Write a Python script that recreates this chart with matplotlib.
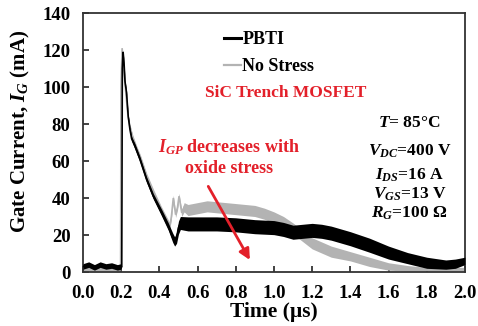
import matplotlib
matplotlib.use("Agg")
import matplotlib.pyplot as plt
import numpy as np

plt.rcParams["font.family"] = ["Liberation Serif", "DejaVu Serif"]
plt.rcParams["font.weight"] = "bold"
plt.rcParams["axes.labelweight"] = "bold"
plt.rcParams["mathtext.fontset"] = "custom"
plt.rcParams["mathtext.rm"] = "Liberation Serif:bold"
plt.rcParams["mathtext.it"] = "Liberation Serif:italic:bold"
plt.rcParams["mathtext.bf"] = "Liberation Serif:bold"

# PBTI-stressed device: gate current (mA) vs time (us), with noise half-width
pbti_t = [0.0, 0.03, 0.06, 0.09, 0.12, 0.15, 0.18, 0.2, 0.203, 0.206, 0.21, 0.215,
          0.22, 0.228, 0.237, 0.246, 0.255, 0.272, 0.298, 0.333, 0.368, 0.412, 0.447,
          0.47, 0.48, 0.49, 0.50, 0.51, 0.55, 0.6, 0.7, 0.8, 0.9, 1.0, 1.05, 1.1,
          1.15, 1.2, 1.25, 1.3, 1.4, 1.5, 1.6, 1.7, 1.8, 1.9, 1.95, 2.0]
pbti_ig = [3, 4, 2.5, 4, 3, 3.5, 2.5, 3, 3, 110, 119, 113,
           103, 97, 84, 77, 72, 68, 61, 50, 41, 32, 24.5,
           18.5, 16.5, 18.5, 24, 26.5, 26, 26, 26, 25.5, 24.5, 24, 23, 21.5,
           22, 22.5, 22, 21, 18, 14.5, 10.5, 7.5, 5, 4, 4.5, 6]
pbti_noise = [1.5, 1.5, 1.5, 1.5, 1.5, 1.5, 1.5, 1.5, 0, 0, 0.5, 0.8,
              1, 1, 1, 1, 1.2, 1.5, 1.5, 1.5, 1.5, 1.8, 2,
              2.5, 2.5, 3, 3.5, 3.5, 3.8, 3.8, 3.8, 3.8, 3.8, 3.8, 3.8, 3.8,
              3.8, 3.8, 3.8, 3.8, 3.8, 3.8, 3.5, 3, 3, 2.5, 2.5, 2]

# Unstressed device
ns_t = [0.0, 0.1, 0.19, 0.197, 0.199, 0.205, 0.215, 0.225, 0.235, 0.245, 0.26,
        0.28, 0.3, 0.333, 0.37, 0.41, 0.44, 0.455, 0.463, 0.473, 0.485, 0.495,
        0.503, 0.517, 0.53, 0.55, 0.6, 0.65, 0.7, 0.8, 0.9, 0.95, 1.0, 1.05, 1.1,
        1.15, 1.2, 1.3, 1.4, 1.5, 1.6, 1.7, 1.8, 1.9, 2.0]
ns_ig = [1.5, 1.5, 1.5, 1.5, 100, 121, 108, 96, 85, 79, 73,
         67, 62, 52, 43, 34, 28, 25, 30, 40, 31, 35,
         41, 32, 35, 33.5, 34.5, 35.5, 35, 34, 33, 31.5, 29.5, 27, 23.5,
         19.5, 15.5, 11, 8.5, 5.5, 3, 2, 1.5, 1.5, 1.5]
ns_noise = [1, 1, 1, 0, 0, 0.5, 1, 1, 1, 1, 1.2,
            1.5, 1.5, 1.5, 1.5, 1.5, 1.5, 1.5, 1.5, 1.5, 1.5, 1.5,
            1.5, 2, 2.5, 3, 3, 3, 3, 3, 3, 3, 3, 3, 3,
            3, 3, 3, 2.5, 2.5, 2, 1.5, 1, 1, 1]

x_ticks = [0.0, 0.2, 0.4, 0.6, 0.8, 1.0, 1.2, 1.4, 1.6, 1.8, 2.0]
y_ticks = [0, 20, 40, 60, 80, 100, 120, 140]

BLACK = "#000000"
GRAY = "#b3b3b3"
RED = "#e3202a"

fig = plt.figure(figsize=(4.78, 3.26), dpi=100)
ax = fig.add_axes([0.1736, 0.1656, 0.799, 0.7945])

def band(t, y, s, color, lw, z):
    t = np.asarray(t, float)
    y = np.asarray(y, float)
    s = np.asarray(s, float)
    ax.fill_between(t, y - s, y + s, color=color, lw=0, zorder=z)
    ax.plot(t, y, color=color, lw=lw, zorder=z, solid_joinstyle="miter")

band(ns_t, ns_ig, ns_noise, GRAY, 1.2, 2)
band(pbti_t, pbti_ig, pbti_noise, BLACK, 1.2, 3)

ax.set_xlim(0, 2.0)
ax.set_ylim(0, 140)
ax.set_xticks(x_ticks)
ax.set_yticks(y_ticks)
ax.set_xticklabels([f"{v:.1f}" for v in x_ticks])
ax.set_yticklabels([str(v) for v in y_ticks])
ax.tick_params(direction="in", length=4, width=1.2, labelsize=13.5, pad=9,
               color="#222222")
for sp in ax.spines.values():
    sp.set_linewidth(1.3)
    sp.set_color("#333333")

ax.set_xlabel("Time (\u00b5s)", fontsize=15.5, fontweight="bold", labelpad=0)
fig.text(20 / 478, 1 - 131 / 326, "Gate Current, $I_G$ (mA)", rotation=90,
         ha="center", va="center", fontsize=15, fontweight="bold")

# legend
h1, = ax.plot([], [], color=BLACK, lw=2.2)
h2, = ax.plot([], [], color=GRAY, lw=1.6)
ax.legend([h1, h2], ["PBTI", "No Stress"], loc="upper left",
          bbox_to_anchor=(0.37, 0.93), frameon=False, fontsize=13,
          handlelength=0.9, handletextpad=0.1, labelspacing=0.55,
          borderpad=0, borderaxespad=0)

ax.text(1.06, 97, "SiC Trench MOSFET", color=RED, fontsize=12.5,
        ha="center", va="center")
ax.text(0.765, 67.5, "$I_{GP}$ decreases with", color=RED, fontsize=13,
        ha="center", va="center")
ax.text(0.765, 56, "oxide stress", color=RED, fontsize=13,
        ha="center", va="center")
ax.annotate("", xy=(0.874, 6.5), xytext=(0.656, 46.3),
            arrowprops=dict(arrowstyle="-|>", color=RED, lw=2,
                            mutation_scale=16, shrinkA=0, shrinkB=0))

params = [("$T$= 85\u00b0C", 80.5),
          ("$V_{DC}$=400 V", 65),
          ("$I_{DS}$=16 A", 52.5),
          ("$V_{GS}$=13 V", 42),
          ("$R_G$=100 \u03a9", 32)]
for txt, yv in params:
    ax.text(1.71, yv, txt, fontsize=12.5, ha="center", va="center")

fig.savefig("out.png", dpi=100)
